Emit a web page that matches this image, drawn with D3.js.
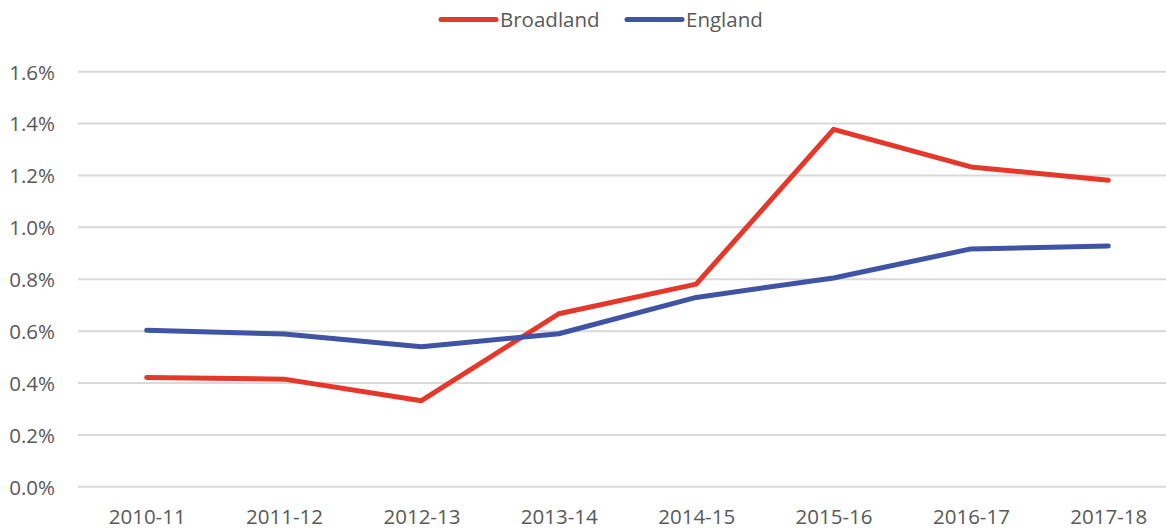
<!DOCTYPE html>
<html>
<head>
<meta charset="utf-8">
<script src="https://cdn.jsdelivr.net/npm/d3@7"></script>
<style>
  html, body { margin: 0; padding: 0; background: #fff; }
  svg { display: block; }
  text { font-family: "Open Sans", sans-serif; fill: #595959; }
</style>
</head>
<body>
<svg id="chart" width="1166" height="530"></svg>
<script>
const categories = ["2010-11", "2011-12", "2012-13", "2013-14", "2014-15", "2015-16", "2016-17", "2017-18"];
const broadland = [0.421, 0.415, 0.332, 0.667, 0.781, 1.378, 1.233, 1.182];
const england = [0.603, 0.589, 0.540, 0.590, 0.730, 0.805, 0.917, 0.928];
const yTicks = [0, 0.2, 0.4, 0.6, 0.8, 1.0, 1.2, 1.4, 1.6];
const seriesNames = ["Broadland", "England"];
const seriesColors = ["#E5372A", "#3F54A5"];

(function () {
const svg = d3.select("#chart");
const plotLeft = 78, plotRight = 1177, plotTop = 71.7, plotBottom = 486.8;
const fontSize = 20.5;

const x = d3.scalePoint().domain(categories).range([plotLeft, plotRight]).padding(0.5);
const y = d3.scaleLinear().domain([0, 1.6]).range([plotBottom, plotTop]);

// gridlines
svg.append("g").selectAll("line").data(yTicks).join("line")
  .attr("x1", plotLeft).attr("x2", plotRight)
  .attr("y1", d => y(d)).attr("y2", d => y(d))
  .attr("stroke", "#D9D9D9").attr("stroke-width", 2);

// y axis labels
const yAxis = d3.axisLeft(y).tickValues(yTicks).tickFormat(d => d3.format(".1f")(d) + "%").tickSize(0).tickPadding(0);
const gy = svg.append("g").attr("transform", "translate(55,0)").call(yAxis);
gy.select(".domain").remove();
gy.selectAll("text").attr("font-size", fontSize).attr("font-family", "'Open Sans', sans-serif")
  .attr("fill", "#595959").attr("dy", "0.36em");

// x axis labels
const xAxis = d3.axisBottom(x).tickSize(0).tickPadding(0);
const gx = svg.append("g").attr("transform", "translate(0,509.5)").call(xAxis);
gx.select(".domain").remove();
gx.selectAll("text").attr("font-size", fontSize).attr("font-family", "'Open Sans', sans-serif").attr("fill", "#595959");

const line = d3.line().x((d, i) => x(categories[i])).y(d => y(d));

[broadland, england].forEach((vals, k) => {
  svg.append("path").datum(vals)
    .attr("d", line)
    .attr("fill", "none")
    .attr("stroke", seriesColors[k])
    .attr("stroke-width", 5)
    .attr("stroke-linejoin", "round")
    .attr("stroke-linecap", "round");
});

// legend
const legendX = [441, 627];
const lg = svg.append("g");
seriesNames.forEach((name, k) => {
  lg.append("line")
    .attr("x1", legendX[k]).attr("x2", legendX[k] + 55)
    .attr("y1", 19.5).attr("y2", 19.5)
    .attr("stroke", seriesColors[k]).attr("stroke-width", 5)
    .attr("stroke-linecap", "round");
  lg.append("text")
    .attr("x", legendX[k] + 59).attr("y", 19.5)
    .attr("dy", "0.36em")
    .attr("font-size", fontSize)
    .text(name);
});
})();
</script>
</body>
</html>
